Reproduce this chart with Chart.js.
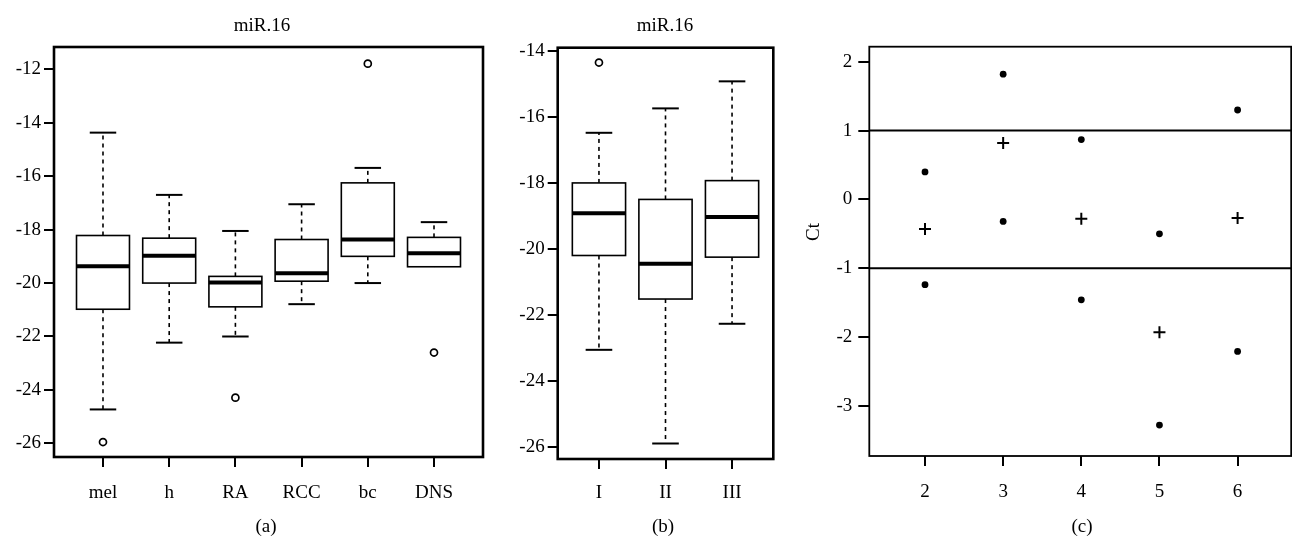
<!DOCTYPE html>
<html><head><meta charset="utf-8">
<script src="https://cdn.jsdelivr.net/npm/chart.js@4.4.1/dist/chart.umd.min.js"></script>
<style>
html,body{margin:0;padding:0;background:#fff;}
#wrap{position:relative;width:1292px;height:536px;overflow:hidden;background:#fff;}
canvas{position:absolute;top:0;}
</style></head><body>
<div id="wrap">
<canvas id="ca" width="500" height="536" style="left:0px"></canvas>
<canvas id="cb" width="290" height="536" style="left:500px"></canvas>
<canvas id="cc" width="502" height="536" style="left:790px"></canvas>
</div>
<script>
// ---- Panel (a) data ----
const catsA = ['mel','h','RA','RCC','bc','DNS'];
const loWhiskA = [-24.73,-22.23,-22.00,-20.79,-20.00,-19.39];
const q1A      = [-20.98,-20.00,-20.89,-19.93,-19.00,-19.39];
const medA     = [-19.37,-18.98,-19.98,-19.63,-18.37,-18.88];
const q3A      = [-18.22,-18.32,-19.75,-18.37,-16.25,-18.29];
const hiWhiskA = [-14.37,-16.70,-18.05,-17.05,-15.69,-17.72];
const outliersA = [[-25.95],[],[-24.29],[],[-11.79],[-22.60]];
const yTicksA = [-26,-24,-22,-20,-18,-16,-14,-12];

// ---- Panel (b) data ----
const catsB = ['I','II','III'];
const loWhiskB = [-23.06,-25.90,-22.27];
const q1B      = [-20.20,-21.52,-20.25];
const medB     = [-18.92,-20.45,-19.03];
const q3B      = [-18.00,-18.50,-17.93];
const hiWhiskB = [-16.48,-15.74,-14.92];
const outliersB = [[-14.35],[],[]];
const yTicksB = [-26,-24,-22,-20,-18,-16,-14];

// ---- Panel (c) data ----
const xC = [2,3,4,5,6];
const dotsHiC = [0.40,1.82,0.87,-0.50,1.30];
const dotsLoC = [-1.24,-0.32,-1.46,-3.28,-2.21];
const plusC   = [-0.43,0.82,-0.28,-1.93,-0.27];
const limitsC = [1,-1];
const yTicksC = [-3,-2,-1,0,1,2];
const xTicksC = [2,3,4,5,6];

const FONT = {family:'"Liberation Serif","Times New Roman",serif', size:19};

const boxPlugin = {
  id:'boxes',
  beforeDatasetsDraw(chart, args, opts){
    if(!opts || !opts.q1) return;
    const {ctx, scales:{x,y}} = chart;
    ctx.save();
    ctx.strokeStyle = '#000';
    for(let i=0;i<opts.q1.length;i++){
      const v = i+1;
      const cx = x.getPixelForValue(v);
      const bl = x.getPixelForValue(v-0.4), br = x.getPixelForValue(v+0.4);
      const cl = x.getPixelForValue(v-0.2), cr = x.getPixelForValue(v+0.2);
      const yq1 = y.getPixelForValue(opts.q1[i]), yq3 = y.getPixelForValue(opts.q3[i]);
      const ym = y.getPixelForValue(opts.med[i]);
      const ylo = y.getPixelForValue(opts.lo[i]), yhi = y.getPixelForValue(opts.hi[i]);
      ctx.lineWidth = 1.6; ctx.setLineDash([4,4]);
      ctx.beginPath(); ctx.moveTo(cx,yq3); ctx.lineTo(cx,yhi); ctx.stroke();
      ctx.beginPath(); ctx.moveTo(cx,yq1); ctx.lineTo(cx,ylo); ctx.stroke();
      ctx.setLineDash([]);
      ctx.lineWidth = 2;
      if (yhi !== yq3){ ctx.beginPath(); ctx.moveTo(cl,yhi); ctx.lineTo(cr,yhi); ctx.stroke(); }
      if (ylo !== yq1){ ctx.beginPath(); ctx.moveTo(cl,ylo); ctx.lineTo(cr,ylo); ctx.stroke(); }
      ctx.lineWidth = 1.6;
      ctx.fillStyle = '#fff';
      ctx.fillRect(bl, yq3, br-bl, yq1-yq3);
      ctx.strokeRect(bl, yq3, br-bl, yq1-yq3);
      ctx.lineWidth = 4;
      ctx.beginPath(); ctx.moveTo(bl,ym); ctx.lineTo(br,ym); ctx.stroke();
    }
    ctx.restore();
  }
};

const hlinePlugin = {
  id:'hlines',
  beforeDatasetsDraw(chart, args, opts){
    if(!opts || !opts.values) return;
    const {ctx, chartArea:a, scales:{y}} = chart;
    ctx.save(); ctx.strokeStyle='#000'; ctx.lineWidth=2;
    opts.values.forEach(v=>{
      const py = y.getPixelForValue(v);
      ctx.beginPath(); ctx.moveTo(a.left,py); ctx.lineTo(a.right,py); ctx.stroke();
    });
    ctx.restore();
  }
};

const framePlugin = {
  id:'frame',
  afterDraw(chart, args, opts){
    const {ctx, chartArea:a} = chart;
    ctx.save();
    ctx.strokeStyle='#000'; ctx.lineWidth = opts.lw || 2;
    ctx.strokeRect(a.left, a.top, a.right-a.left, a.bottom-a.top);
    ctx.fillStyle='#000';
    ctx.font = FONT.size+'px '+FONT.family;
    ctx.textAlign='center'; ctx.textBaseline='alphabetic';
    if(opts.title) ctx.fillText(opts.title, opts.tx, 31);
    if(opts.caption) ctx.fillText(opts.caption, opts.cx, 532);
    if(opts.ylab){
      ctx.save(); ctx.translate(opts.ylx, 232); ctx.rotate(-Math.PI/2);
      ctx.textBaseline='middle'; ctx.fillText(opts.ylab,0,0); ctx.restore();
    }
    ctx.restore();
  }
};

Chart.register(boxPlugin, hlinePlugin, framePlugin);

function outlierPoints(out){
  const pts=[]; out.forEach((arr,i)=>arr.forEach(v=>pts.push({x:i+1,y:v}))); return pts;
}

function axisX(cats, min, max, h, tickLen, pad, tickVals){
  return {
    type:'linear', min, max,
    afterBuildTicks: s=>{ s.ticks = tickVals.map(v=>({value:v})); },
    ticks:{callback:(v)=> cats ? cats[v-1] : String(v), font:FONT, color:'#000', padding:pad, maxRotation:0, autoSkip:false},
    grid:{drawOnChartArea:false, drawTicks:true, tickLength:tickLen, color:'#000', lineWidth:2},
    border:{display:false},
    afterFit: s=>{ s.height = h; s.paddingLeft = 0; s.paddingRight = 0; }
  };
}
function axisY(min, max, w, tickLen, pad, tickVals){
  return {
    type:'linear', min, max,
    afterBuildTicks: s=>{ s.ticks = tickVals.map(v=>({value:v})); },
    ticks:{font:FONT, color:'#000', padding:pad, autoSkip:false},
    grid:{drawOnChartArea:false, drawTicks:true, tickLength:tickLen, color:'#000', lineWidth:2},
    border:{display:false},
    afterFit: s=>{ s.width = w; s.paddingTop = 0; s.paddingBottom = 0; }
  };
}
const common = {responsive:false, animation:false, events:[]};

new Chart(document.getElementById('ca'), {
  type:'scatter',
  data:{datasets:[{data:outlierPoints(outliersA), pointStyle:'circle', pointRadius:3.5, borderColor:'#000', backgroundColor:'#fff', borderWidth:1.7}]},
  options:Object.assign({}, common, {
    layout:{autoPadding:false, padding:{left:0, top:47, right:17, bottom:0}},
    plugins:{legend:{display:false}, tooltip:{enabled:false},
      boxes:{q1:q1A, q3:q3A, med:medA, lo:loWhiskA, hi:hiWhiskA},
      frame:{lw:2.6, title:'miR.16', tx:262, caption:'(a)', cx:266}},
    scales:{
      x: axisX(catsA, 0.26, 6.74, 79, 10, 15, catsA.map((c,i)=>i+1)),
      y: axisY(-26.51, -11.165, 54, 10, 3, yTicksA)
    }
  })
});

new Chart(document.getElementById('cb'), {
  type:'scatter',
  data:{datasets:[{data:outlierPoints(outliersB), pointStyle:'circle', pointRadius:3.5, borderColor:'#000', backgroundColor:'#fff', borderWidth:1.7}]},
  options:Object.assign({}, common, {
    layout:{autoPadding:false, padding:{left:0, top:47.7, right:16.7, bottom:0}},
    plugins:{legend:{display:false}, tooltip:{enabled:false},
      boxes:{q1:q1B, q3:q3B, med:medB, lo:loWhiskB, hi:hiWhiskB},
      frame:{lw:2.6, title:'miR.16', tx:165, caption:'(b)', cx:163}},
    scales:{
      x: axisX(catsB, 0.38, 3.62, 77, 10, 13, catsB.map((c,i)=>i+1)),
      y: axisY(-26.37, -13.9, 57.7, 10, 3, yTicksB)
    }
  })
});

new Chart(document.getElementById('cc'), {
  type:'scatter',
  data:{datasets:[
    {data:xC.map((x,i)=>({x, y:dotsHiC[i]})), pointStyle:'circle', pointRadius:3.4, borderWidth:0, backgroundColor:'#000', borderColor:'#000'},
    {data:xC.map((x,i)=>({x, y:dotsLoC[i]})), pointStyle:'circle', pointRadius:3.4, borderWidth:0, backgroundColor:'#000', borderColor:'#000'},
    {data:xC.map((x,i)=>({x, y:plusC[i]})), pointStyle:'cross', pointRadius:6, borderWidth:2, borderColor:'#000', backgroundColor:'#000'}
  ]},
  options:Object.assign({}, common, {
    layout:{autoPadding:false, padding:{left:0, top:46.7, right:0.8, bottom:0}},
    plugins:{legend:{display:false}, tooltip:{enabled:false},
      hlines:{values:limitsC},
      frame:{lw:1.8, caption:'(c)', cx:292, ylab:'Ct', ylx:24}},
    scales:{
      x: axisX(null, 1.287, 6.686, 80, 10, 15, xTicksC),
      y: axisY(-3.73, 2.22, 79.3, 11, 6, yTicksC)
    }
  })
});
</script>
</body></html>
